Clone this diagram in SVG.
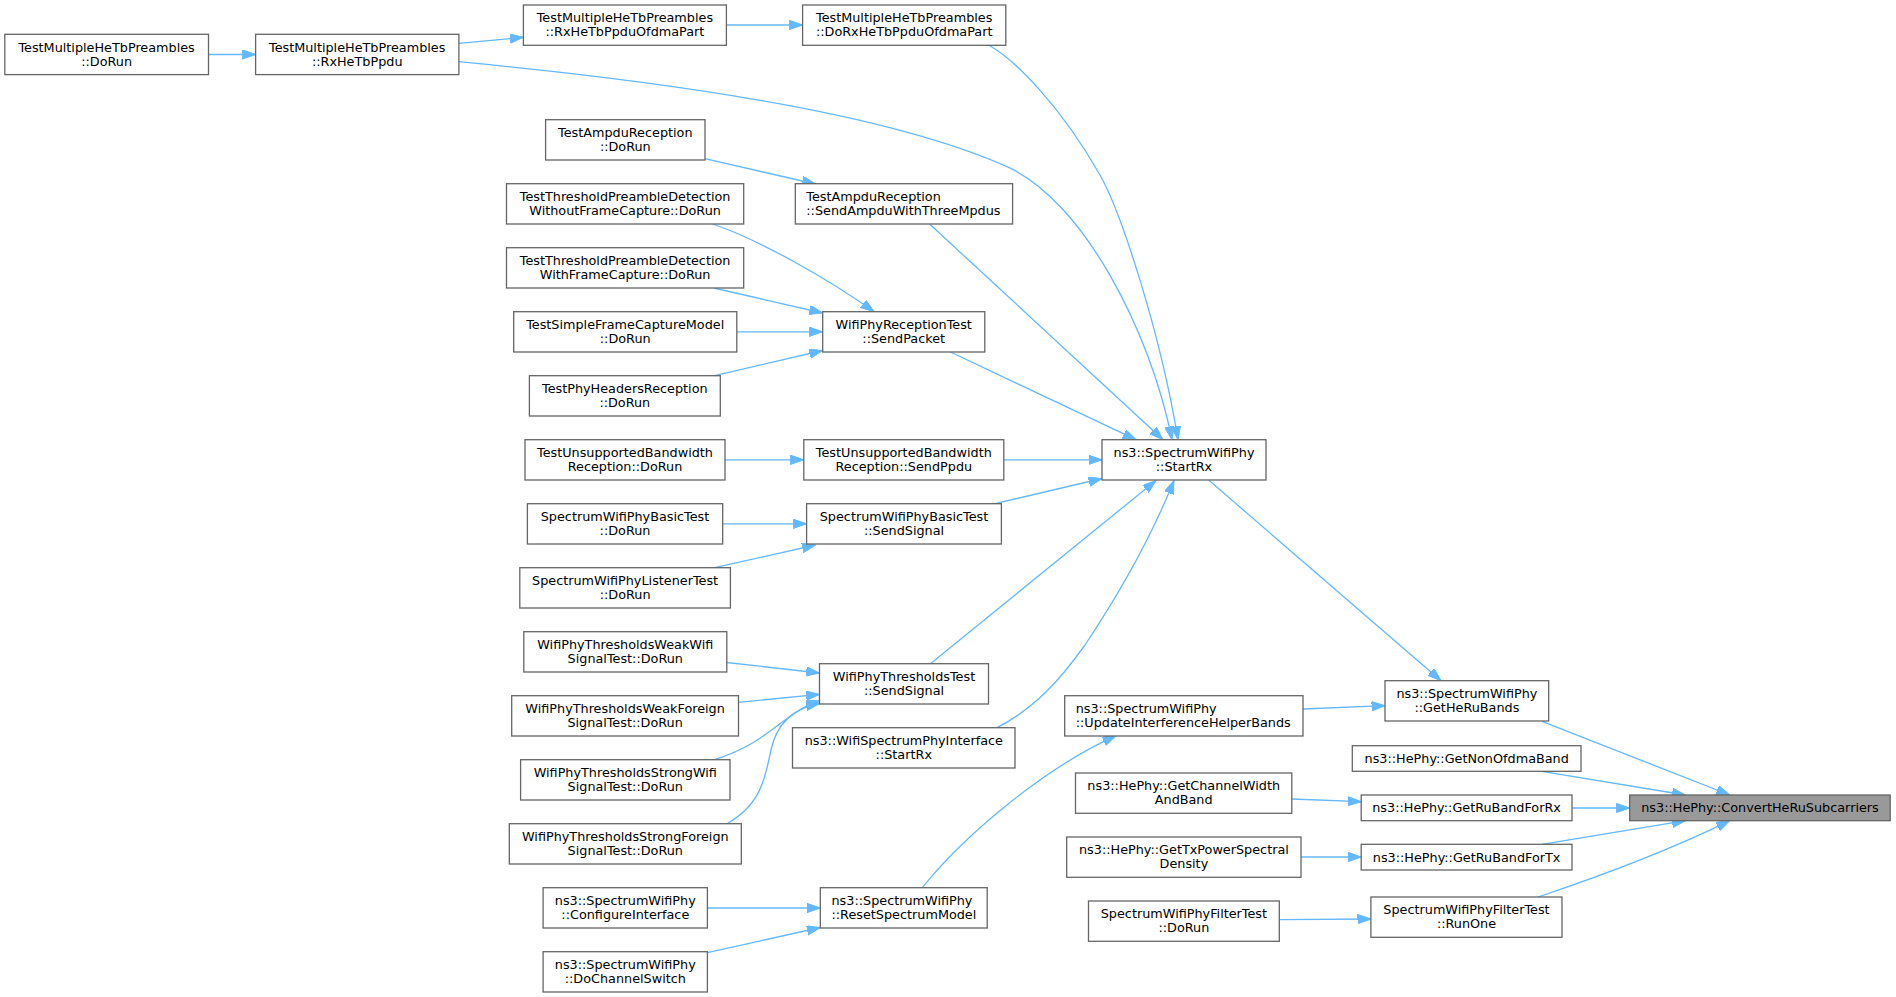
<svg xmlns="http://www.w3.org/2000/svg" width="1896" height="997" viewBox="0 0 1896 997">
<style>
.n rect{fill:#ffffff;stroke:#666666;stroke-width:1.3}
.n.hl rect{fill:#999999;stroke:#666666}
.n text{font-family:"DejaVu Sans",sans-serif;font-size:12.8px;fill:#000000;text-anchor:middle}
.n text.l{text-anchor:start}
#edges path{fill:none;stroke:#63b8ff;stroke-width:1.3;marker-end:url(#ah)}
</style>
<defs>
<marker id="ah" markerUnits="userSpaceOnUse" markerWidth="14" markerHeight="10" refX="13.4" refY="4.7" orient="auto" viewBox="0 0 14 10">
<path d="M0,0 L13.4,4.7 L0,9.4 z" fill="#63b8ff" stroke="#63b8ff" stroke-width="1"/>
</marker>
</defs>
<rect width="1896" height="997" fill="#ffffff"/>
<g id="edges">
<path d="M208.5,54.5 L255.6,54.5"/>
<path d="M458.9,43.3 L523.4,37.3"/>
<path d="M458.9,61.7 C650,80 880,110 1007,166.7 C1083,200.7 1150,330 1172,439.7"/>
<path d="M726.4,25 L802.6,25"/>
<path d="M989,45.3 C1015,60 1060,105 1100,175 C1120,210 1160,330 1178,439.7"/>
<path d="M705,158.7 L815.5,184"/>
<path d="M929.6,224 L1163,439.7"/>
<path d="M712.6,224 C760,240 830,280 874,311.7"/>
<path d="M713.9,288 L822.7,313"/>
<path d="M736.8,331.8 L822.7,331.8"/>
<path d="M714.7,375.7 L822.7,350.5"/>
<path d="M950.5,352 L1136,439.7"/>
<path d="M725,459.8 L803.8,459.8"/>
<path d="M1003.8,459.8 L1102,459.8"/>
<path d="M722.7,523.8 L806.6,523.8"/>
<path d="M995,503.7 L1102,478.5"/>
<path d="M714.7,567.7 L815.5,545"/>
<path d="M930.4,663.7 L1156,480.5"/>
<path d="M997,727.7 C1035,708 1060,680 1085,645 C1115,600 1150,540 1174,480.5"/>
<path d="M726.8,662.5 L819.5,673"/>
<path d="M738.5,702.3 L819.5,694.3"/>
<path d="M714.7,759.7 C750,748 765,735 785,720 C800,709 808,704 819.5,701"/>
<path d="M726.8,823.7 C760,805 765,780 771,750 C777,722 795,708 819.5,703.5"/>
<path d="M922.3,887.7 C960,840 1040,770 1116,735.7"/>
<path d="M707.4,908 L820.3,908"/>
<path d="M707.4,952.7 L820.3,927.5"/>
<path d="M1208.6,480 L1441,680.7"/>
<path d="M1303,709 L1385,705.7"/>
<path d="M1542,721.3 L1729.7,795"/>
<path d="M1542,771.3 L1685.4,795"/>
<path d="M1291.8,799 L1361.2,801.7"/>
<path d="M1572,808 L1629.7,808"/>
<path d="M1301,857 L1361.2,857"/>
<path d="M1542,844.3 L1685.4,820.7"/>
<path d="M1279.3,919.7 L1370.9,919"/>
<path d="M1538,897 C1580,883 1660,855 1729.7,820.7"/>
</g>
<g id="n1" class="n"><rect x="4.8" y="34.3" width="203.7" height="40.3"/><text x="106.6" y="51.5">TestMultipleHeTbPreambles</text><text x="106.6" y="65.5">::DoRun</text></g>
<g id="n2" class="n"><rect x="255.6" y="34.3" width="203.3" height="40.3"/><text x="357.2" y="51.5">TestMultipleHeTbPreambles</text><text x="357.2" y="65.5">::RxHeTbPpdu</text></g>
<g id="n3" class="n"><rect x="523.4" y="5" width="203" height="40.3"/><text x="624.9" y="22.2">TestMultipleHeTbPreambles</text><text x="624.9" y="36.2">::RxHeTbPpduOfdmaPart</text></g>
<g id="n4" class="n"><rect x="802.6" y="5" width="203.2" height="40.3"/><text x="904.2" y="22.2">TestMultipleHeTbPreambles</text><text x="904.2" y="36.2">::DoRxHeTbPpduOfdmaPart</text></g>
<g id="n5" class="n"><rect x="545.6" y="119.7" width="159.4" height="40.3"/><text x="625.3" y="136.9">TestAmpduReception</text><text x="625.3" y="150.9">::DoRun</text></g>
<g id="n6" class="n"><rect x="795.3" y="183.7" width="217.3" height="40.3"/><text class="l" x="806.3" y="200.9">TestAmpduReception</text><text class="l" x="806.3" y="214.9">::SendAmpduWithThreeMpdus</text></g>
<g id="n7" class="n"><rect x="506.5" y="183.7" width="237.2" height="40.3"/><text x="625.1" y="200.9">TestThresholdPreambleDetection</text><text x="625.1" y="214.9">WithoutFrameCapture::DoRun</text></g>
<g id="n8" class="n"><rect x="506.5" y="247.7" width="237.2" height="40.3"/><text x="625.1" y="264.9">TestThresholdPreambleDetection</text><text x="625.1" y="278.9">WithFrameCapture::DoRun</text></g>
<g id="n9" class="n"><rect x="513.7" y="311.7" width="223.1" height="40.3"/><text x="625.2" y="328.9">TestSimpleFrameCaptureModel</text><text x="625.2" y="342.9">::DoRun</text></g>
<g id="n10" class="n"><rect x="822.7" y="311.7" width="162.1" height="40.3"/><text x="903.7" y="328.9">WifiPhyReceptionTest</text><text x="903.7" y="342.9">::SendPacket</text></g>
<g id="n11" class="n"><rect x="529.4" y="375.7" width="190.9" height="40.3"/><text x="624.8" y="392.9">TestPhyHeadersReception</text><text x="624.8" y="406.9">::DoRun</text></g>
<g id="n12" class="n"><rect x="525" y="439.7" width="200" height="40.3"/><text x="625" y="456.9">TestUnsupportedBandwidth</text><text x="625" y="470.9">Reception::DoRun</text></g>
<g id="n13" class="n"><rect x="803.8" y="439.7" width="200" height="40.3"/><text x="903.8" y="456.9">TestUnsupportedBandwidth</text><text x="903.8" y="470.9">Reception::SendPpdu</text></g>
<g id="n14" class="n"><rect x="1102" y="439.7" width="164" height="40.3"/><text x="1184" y="456.9">ns3::SpectrumWifiPhy</text><text x="1184" y="470.9">::StartRx</text></g>
<g id="n15" class="n"><rect x="527.4" y="503.7" width="195.3" height="40.3"/><text x="625" y="520.9">SpectrumWifiPhyBasicTest</text><text x="625" y="534.9">::DoRun</text></g>
<g id="n16" class="n"><rect x="806.6" y="503.7" width="194.8" height="40.3"/><text x="904" y="520.9">SpectrumWifiPhyBasicTest</text><text x="904" y="534.9">::SendSignal</text></g>
<g id="n17" class="n"><rect x="519.8" y="567.7" width="210.6" height="40.3"/><text x="625.1" y="584.9">SpectrumWifiPhyListenerTest</text><text x="625.1" y="598.9">::DoRun</text></g>
<g id="n18" class="n"><rect x="523.8" y="631.7" width="203" height="40.3"/><text x="625.3" y="648.9">WifiPhyThresholdsWeakWifi</text><text x="625.3" y="662.9">SignalTest::DoRun</text></g>
<g id="n19" class="n"><rect x="819.5" y="663.7" width="169" height="40.3"/><text x="904" y="680.9">WifiPhyThresholdsTest</text><text x="904" y="694.9">::SendSignal</text></g>
<g id="n20" class="n"><rect x="511.7" y="695.7" width="226.8" height="40.3"/><text x="625.1" y="712.9">WifiPhyThresholdsWeakForeign</text><text x="625.1" y="726.9">SignalTest::DoRun</text></g>
<g id="n21" class="n"><rect x="520.6" y="759.7" width="209.4" height="40.3"/><text x="625.3" y="776.9">WifiPhyThresholdsStrongWifi</text><text x="625.3" y="790.9">SignalTest::DoRun</text></g>
<g id="n22" class="n"><rect x="509.3" y="823.7" width="232" height="40.3"/><text x="625.3" y="840.9">WifiPhyThresholdsStrongForeign</text><text x="625.3" y="854.9">SignalTest::DoRun</text></g>
<g id="n23" class="n"><rect x="792.5" y="727.7" width="222.5" height="40.3"/><text x="903.8" y="744.9">ns3::WifiSpectrumPhyInterface</text><text x="903.8" y="758.9">::StartRx</text></g>
<g id="n24" class="n"><rect x="1064.7" y="695.7" width="238.3" height="40.3"/><text class="l" x="1075.7" y="712.9">ns3::SpectrumWifiPhy</text><text class="l" x="1075.7" y="726.9">::UpdateInterferenceHelperBands</text></g>
<g id="n25" class="n"><rect x="1385" y="680.7" width="163.7" height="40.3"/><text x="1466.9" y="697.9">ns3::SpectrumWifiPhy</text><text x="1466.9" y="711.9">::GetHeRuBands</text></g>
<g id="n26" class="n"><rect x="1352.3" y="745.7" width="228.7" height="25.6"/><text x="1466.7" y="763">ns3::HePhy::GetNonOfdmaBand</text></g>
<g id="n27" class="n"><rect x="1075.5" y="773" width="216.3" height="40.3"/><text x="1183.7" y="790.2">ns3::HePhy::GetChannelWidth</text><text x="1183.7" y="804.2">AndBand</text></g>
<g id="n28" class="n"><rect x="1361.2" y="795" width="210.8" height="25.7"/><text x="1466.6" y="812.3">ns3::HePhy::GetRuBandForRx</text></g>
<g id="n29" class="n hl"><rect x="1629.7" y="795" width="260.5" height="25.7"/><text x="1760" y="812.3">ns3::HePhy::ConvertHeRuSubcarriers</text></g>
<g id="n30" class="n"><rect x="1066.7" y="837" width="234.3" height="40.3"/><text x="1183.9" y="854.2">ns3::HePhy::GetTxPowerSpectral</text><text x="1183.9" y="868.2">Density</text></g>
<g id="n31" class="n"><rect x="1361.2" y="844.3" width="210.8" height="25.7"/><text x="1466.6" y="861.6">ns3::HePhy::GetRuBandForTx</text></g>
<g id="n32" class="n"><rect x="1088.5" y="901" width="190.8" height="40.3"/><text x="1183.9" y="918.2">SpectrumWifiPhyFilterTest</text><text x="1183.9" y="932.2">::DoRun</text></g>
<g id="n33" class="n"><rect x="1370.9" y="897" width="191.1" height="40.3"/><text x="1466.5" y="914.2">SpectrumWifiPhyFilterTest</text><text x="1466.5" y="928.2">::RunOne</text></g>
<g id="n34" class="n"><rect x="820.3" y="887.7" width="166.9" height="40.3"/><text class="l" x="831.5" y="904.9">ns3::SpectrumWifiPhy</text><text class="l" x="831.5" y="918.9">::ResetSpectrumModel</text></g>
<g id="n35" class="n"><rect x="543.1" y="887.7" width="164.3" height="40.3"/><text x="625.3" y="904.9">ns3::SpectrumWifiPhy</text><text x="625.3" y="918.9">::ConfigureInterface</text></g>
<g id="n36" class="n"><rect x="543.1" y="951.7" width="164.3" height="40.3"/><text x="625.3" y="968.9">ns3::SpectrumWifiPhy</text><text x="625.3" y="982.9">::DoChannelSwitch</text></g>
</svg>
